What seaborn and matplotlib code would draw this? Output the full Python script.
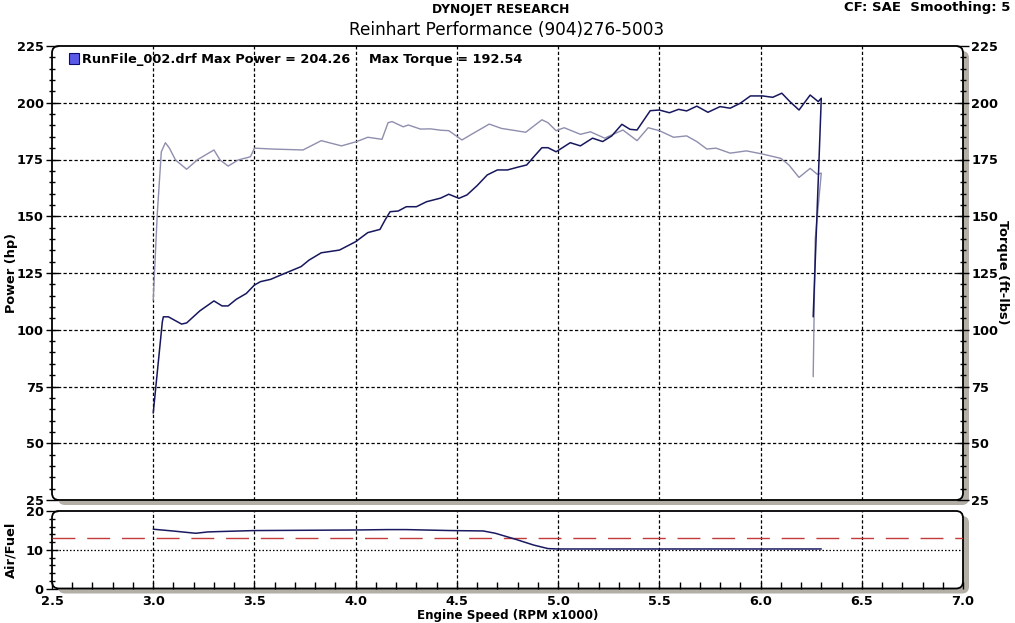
import numpy as np
import pandas as pd
import matplotlib
matplotlib.use("Agg")
import matplotlib.pyplot as plt
import seaborn as sns
from matplotlib.patches import FancyBboxPatch, Rectangle
from matplotlib.ticker import MultipleLocator

# ---------------- data ----------------
rpm_power = [3.00, 3.045, 3.05, 3.075, 3.14, 3.165, 3.23, 3.30, 3.34, 3.37, 3.41, 3.46,
             3.50, 3.53, 3.58, 3.63, 3.73, 3.77, 3.83, 3.92, 4.00, 4.06, 4.12, 4.145,
             4.17, 4.21, 4.25, 4.30, 4.35, 4.42, 4.46, 4.51, 4.55, 4.60, 4.65, 4.70,
             4.75, 4.80, 4.845, 4.88, 4.92, 4.95, 4.99, 5.06, 5.11, 5.17, 5.22, 5.265,
             5.315, 5.355, 5.39, 5.455, 5.50, 5.55, 5.595, 5.635, 5.685, 5.74, 5.80,
             5.85, 5.90, 5.95, 6.01, 6.06, 6.105, 6.145, 6.19, 6.245, 6.285, 6.30, 6.26]
power_hp = [63.3, 103.5, 105.7, 105.7, 102.5, 103.0, 108.3, 112.7, 110.5, 110.5, 113.4, 116.0,
            119.7, 121.2, 122.2, 124.1, 127.8, 130.7, 133.9, 135.1, 138.8, 142.8, 144.2, 148.3,
            152.0, 152.3, 154.2, 154.2, 156.4, 158.0, 159.7, 157.9, 159.4, 163.5, 168.2, 170.4,
            170.4, 171.6, 172.6, 176.2, 180.2, 180.2, 178.4, 182.4, 181.0, 184.4, 182.9, 185.4,
            190.5, 188.3, 188.0, 196.5, 196.8, 195.6, 197.1, 196.4, 198.5, 195.8, 198.3,
            197.6, 199.8, 203.0, 203.0, 202.4, 204.2, 200.5, 196.8, 203.4, 200.5, 202.0, 105.7]

rpm_torque = [3.00, 3.02, 3.04, 3.06, 3.08, 3.11, 3.165, 3.22, 3.30, 3.33, 3.37, 3.42,
              3.48, 3.50, 3.59, 3.74, 3.83, 3.93, 4.005, 4.06, 4.13, 4.16, 4.18, 4.235,
              4.26, 4.32, 4.37, 4.42, 4.46, 4.525, 4.58, 4.66, 4.72, 4.77, 4.84, 4.92,
              4.95, 4.99, 5.03, 5.11, 5.16, 5.23, 5.32, 5.39, 5.445, 5.50, 5.57, 5.635,
              5.685, 5.735, 5.78, 5.85, 5.93, 6.01, 6.10, 6.14, 6.19, 6.245, 6.28, 6.30,
              6.27, 6.26]
torque_ftlb = [113.0, 151.0, 178.4, 182.4, 180.0, 174.8, 170.7, 175.0, 179.2, 174.8, 172.1, 174.8,
               176.2, 180.0, 179.6, 179.2, 183.3, 181.0, 182.9, 184.8, 183.9, 191.2, 191.7, 189.4,
               190.2, 188.4, 188.5, 187.9, 187.7, 183.6, 186.5, 190.6, 188.7, 188.0, 187.0, 192.5,
               191.2, 187.7, 189.0, 186.1, 187.2, 184.4, 188.0, 183.3, 189.0, 187.7, 184.8, 185.4,
               182.9, 179.6, 180.0, 177.8, 178.8, 177.4, 175.5, 172.6, 167.1, 171.1, 168.5, 169.0,
               140.0, 79.3]

rpm_afr = [3.00, 3.095, 3.21, 3.27, 3.33, 3.50, 4.00, 4.155, 4.25, 4.47, 4.63, 4.69,
           4.79, 4.88, 4.95, 5.00, 6.30]
afr = [15.3, 14.85, 14.25, 14.6, 14.7, 14.95, 15.1, 15.2, 15.2, 14.95, 14.85, 14.25,
       12.7, 11.2, 10.3, 10.2, 10.2]

target_afr = 13.1
run_name = "RunFile_002.drf"
max_power = 204.26
max_torque = 192.54

x_ticks = [2.5, 3.0, 3.5, 4.0, 4.5, 5.0, 5.5, 6.0, 6.5, 7.0]
y_ticks_main = [25, 50, 75, 100, 125, 150, 175, 200, 225]
y_ticks_afr = [0, 10, 20]

# ---------------- figure ----------------
sns.set_theme(style="white")
plt.rcParams["font.family"] = ["DejaVu Sans"]
plt.rcParams["axes.linewidth"] = 0
for k in ("text.color", "axes.labelcolor", "xtick.color", "ytick.color"):
    plt.rcParams[k] = "black"

W, H = 1015, 623
fig = plt.figure(figsize=(W / 100, H / 100), dpi=100)
fig.patch.set_facecolor("white")

FS = 9.3


def px_axes(x0, y0, x1, y1):
    return fig.add_axes([x0 / W, 1 - y1 / H, (x1 - x0) / W, (y1 - y0) / H])


def frame(x0, y0, x1, y1):
    sh = FancyBboxPatch(((x0 + 6) / 100, (H - y1 - 5) / 100), (x1 - x0) / 100, (y1 - y0) / 100,
                        boxstyle="round,pad=0,rounding_size=0.07", fc="#b3afa6", ec="none",
                        transform=fig.dpi_scale_trans, zorder=-3)
    fr = FancyBboxPatch((x0 / 100, (H - y1) / 100), (x1 - x0) / 100, (y1 - y0) / 100,
                        boxstyle="round,pad=0,rounding_size=0.07", fc="white", ec="black", lw=1.3,
                        transform=fig.dpi_scale_trans, zorder=-2)
    fig.add_artist(sh)
    fig.add_artist(fr)


X0, X1 = 52, 963
frame(X0, 46, X1, 500)
frame(X0, 511, X1, 588.5)

ax = px_axes(X0, 46, X1, 500)
ax2 = px_axes(X0, 511, X1, 588.5)
for a in (ax, ax2):
    a.set_facecolor("none")
    for s in a.spines.values():
        s.set_visible(False)

grid_kw = dict(color="black", lw=0.9, dashes=(2.6, 1.8), zorder=1)

# ---- top panel ----
df_p = pd.DataFrame({"rpm": rpm_power, "hp": power_hp})
df_t = pd.DataFrame({"rpm": rpm_torque, "tq": torque_ftlb})

for xv in x_ticks[1:-1]:
    ax.axvline(xv, **grid_kw)
for yv in y_ticks_main[1:-1]:
    ax.axhline(yv, **grid_kw)

sns.lineplot(data=df_t, x="rpm", y="tq", sort=False, estimator=None, ax=ax,
             color="#8e8eae", lw=1.0, zorder=3)
sns.lineplot(data=df_p, x="rpm", y="hp", sort=False, estimator=None, ax=ax,
             color="#17175e", lw=1.1, zorder=4)

ax.set_xlim(2.5, 7.0)
ax.set_ylim(25, 225)
ax.set_xticks([])
ax.set_xlabel("")
ax.set_yticks(y_ticks_main)
ax.yaxis.set_minor_locator(MultipleLocator(5))
ax.tick_params(axis="y", which="major", direction="inout", length=8, width=1, color="black",
               left=True, right=True, labelleft=True, labelright=True, labelsize=FS, pad=2)
ax.tick_params(axis="y", which="minor", direction="inout", length=5, width=1, color="black",
               left=True, right=True)
for t in ax.yaxis.get_major_ticks():
    t.label1.set_fontweight("bold")
    t.label2.set_fontweight("bold")
ax.set_ylabel("Power (hp)", fontsize=FS, fontweight="bold")
ax.yaxis.set_label_coords((18 - X0) / (X1 - X0), 0.5)

fig.text(1003 / W, 1 - 272 / H, "Torque (ft-lbs)", rotation=-90, ha="center", va="center",
         fontsize=FS, fontweight="bold")

# legend
fig.add_artist(Rectangle((69 / W, 1 - 64 / H), 10 / W, 11 / H, transform=fig.transFigure,
                         fc="#5a5ae6", ec="#0c0c70", lw=0.8, zorder=5))
fig.text(82 / W, 1 - 60 / H, f"{run_name} Max Power = {max_power:.2f}", ha="left", va="center",
         fontsize=FS, fontweight="bold")
fig.text(369 / W, 1 - 60 / H, f"Max Torque = {max_torque:.2f}", ha="left", va="center",
         fontsize=FS, fontweight="bold")

# ---- bottom panel ----
df_a = pd.DataFrame({"rpm": rpm_afr, "afr": afr})
for xv in x_ticks[1:-1]:
    ax2.axvline(xv, **grid_kw)
ax2.axhline(10, color="black", lw=0.9, dashes=(1.2, 1.6), zorder=1)
ax2.axhline(target_afr, color="#c23a3a", lw=1.0, dashes=(16.5, 8.5), zorder=2)
sns.lineplot(data=df_a, x="rpm", y="afr", sort=False, estimator=None, ax=ax2,
             color="#1a1a62", lw=1.1, zorder=4)

ax2.set_xlim(2.5, 7.0)
ax2.set_ylim(0, 20)
ax2.set_xticks(x_ticks)
ax2.set_xticklabels([f"{v:.1f}" for v in x_ticks], fontsize=FS, fontweight="bold")
ax2.xaxis.set_minor_locator(MultipleLocator(0.1))
ax2.tick_params(axis="x", which="both", direction="in", length=5, width=1, color="black",
                bottom=True, top=False, pad=5)
ax2.set_yticks(y_ticks_afr)
ax2.set_yticklabels([str(v) for v in y_ticks_afr], fontsize=FS, fontweight="bold")
ax2.yaxis.set_minor_locator(MultipleLocator(2))
ax2.tick_params(axis="y", which="major", direction="inout", length=8, width=1, color="black",
                left=True, right=False, pad=2)
ax2.tick_params(axis="y", which="minor", direction="inout", length=5, width=1, color="black",
                left=True, right=False)
ax2.set_ylabel("Air/Fuel", fontsize=FS, fontweight="bold")
ax2.yaxis.set_label_coords((17 - X0) / (X1 - X0), 0.5)
ax2.set_xlabel("")
fig.text(508 / W, 1 - 616 / H, "Engine Speed (RPM x1000)", ha="center", va="center",
         fontsize=8.6, fontweight="bold")

# ---- header ----
fig.text(501 / W, 1 - 10 / H, "DYNOJET RESEARCH", ha="center", va="center",
         fontsize=8.8, fontweight="bold")
fig.text(507 / W, 1 - 30 / H, "Reinhart Performance (904)276-5003", ha="center", va="center",
         fontsize=12.2, fontweight="normal")
fig.text(1010 / W, 1 - 8 / H, "CF: SAE  Smoothing: 5", ha="right", va="center",
         fontsize=9.5, fontweight="bold")

fig.savefig("out.png", dpi=100, facecolor="white")
